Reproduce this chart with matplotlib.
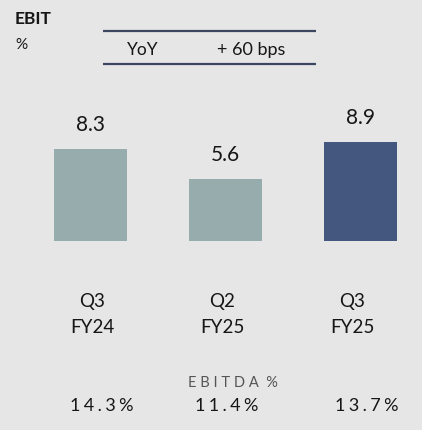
import matplotlib.pyplot as plt

# --- data ---
periods = ['Q3\nFY24', 'Q2\nFY25', 'Q3\nFY25']
ebit = [8.3, 5.6, 8.9]
ebitda = ['14.3%', '11.4%', '13.7%']
yoy_label = 'YoY'
yoy_value = '+ 60 bps'

bg = '#e6e6e6'
grey_bar = '#97adad'
navy_bar = '#44587f'
txt = '#161616'
line_col = '#3d4660'

plt.rcParams['font.family'] = ['Lato', 'DejaVu Sans']

W, H = 422, 431
fig = plt.figure(figsize=(W / 100, H / 100), dpi=100)
fig.patch.set_facecolor(bg)

# overlay axes in pixel coords for header text / rules
ov = fig.add_axes([0, 0, 1, 1])
ov.set_xlim(0, W)
ov.set_ylim(H, 0)
ov.axis('off')

ov.text(15, 19, 'EBIT', fontsize=12.5, fontweight='bold', color=txt, ha='left', va='center')
ov.text(15, 45, '%', fontsize=11, color=txt, ha='left', va='center')
ov.plot([103, 316], [32, 32], color=line_col, lw=1.6, solid_capstyle='butt')
ov.plot([103, 316], [65, 65], color=line_col, lw=1.6, solid_capstyle='butt')
ov.text(143, 50, yoy_label, fontsize=12.5, color=txt, ha='center', va='center')
ov.text(251.5, 50, yoy_value, fontsize=13, color=txt, ha='center', va='center')

# bar axes
base_px = 241.7
top_px = base_px - 110.5
spacing = 135.0
c0 = 90.5
ax = fig.add_axes([0, (H - base_px) / H, 1, (base_px - top_px) / H])
ax.set_facecolor('none')
ax.set_xlim(-c0 / spacing, (W - c0) / spacing)
ax.set_ylim(0, 10)
ax.axis('off')

x = list(range(len(ebit)))
colors = [grey_bar, grey_bar, navy_bar]
ax.bar(x, ebit, width=73 / spacing, color=colors)

for i, v in zip(x, ebit):
    ax.annotate(f'{v:.1f}', xy=(i, v), xytext=(0, 25), textcoords='offset pixels',
                ha='center', va='center', fontsize=15, color=txt)

cat_dx = [1.5, -3.5, -8.5]
for i, lab, dx in zip(x, periods, cat_dx):
    ax.annotate(lab, xy=(i, 0), xytext=(dx, -73), textcoords='offset pixels',
                ha='center', va='center', fontsize=13.5, color=txt, linespacing=1.6)

ebitda_dx = [11.5, 1.5, 6.5]
for i, lab, dx in zip(x, ebitda, ebitda_dx):
    spaced = '\u2009\u200a'.join(lab)
    ax.annotate(spaced, xy=(i, 0), xytext=(dx, -164.5), textcoords='offset pixels',
                ha='center', va='center', fontsize=13, color=txt)

ax.annotate('E B I T D A  %', xy=(1, 0), xytext=(7.5, -141.5), textcoords='offset pixels',
            ha='center', va='center', fontsize=10.5, color='#555555')

fig.savefig('out.png', dpi=100, facecolor=bg)
